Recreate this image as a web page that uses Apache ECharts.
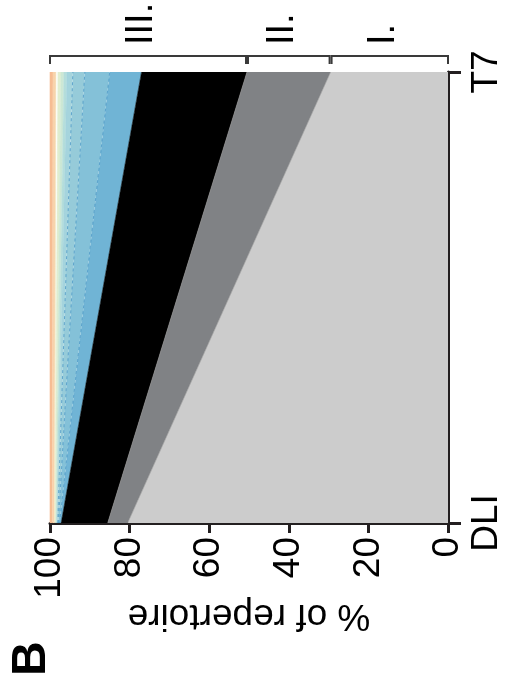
<!DOCTYPE html>
<html lang="en">
<head>
    <meta charset="UTF-8">
    <title>% of repertoire</title>
    <script src="https://cdn.jsdelivr.net/npm/echarts@6/dist/echarts.min.js"></script>
    <style>
        html, body { margin: 0; padding: 0; background: #fff; }
    </style>
</head>
<body>
    <div id="chart" style="width: 505px; height: 679px;"></div>
    <script>
        // timepoints (bottom to top) and clone shares, stacked from 0
        var timepoints = ['DLI', 'T7'];
        var cloneNames = ['c1', 'c2', 'c3', 'c4', 'c5', 'c6', 'c7', 'c8', 'c9', 'c10', 'c11', 'c12', 'c13'];
        var cloneColors = ['#cccccc', '#808285', '#000000', '#70b4d5', '#84c1d8', '#96cbd9', '#a5d4dd',
                           '#b5dedb', '#cde8d5', '#e0eed0', '#f2ebc6', '#f8d3ac', '#f6bd93'];
        var dliShare = [80.5, 5, 11.7, 0.4, 0.3, 0.2, 0.15, 0.15, 0.15, 0.15, 0.2, 0.5, 0.6];
        var t7Share = [29.5, 21, 26.5, 8, 6.25, 3, 1.5, 0.75, 0.75, 0.75, 0.5, 0.75, 0.75];
        var valueTicks = [0, 20, 40, 60, 80, 100];

        // groups marked above the T7 end
        var groupNames = ['I.', 'II.', 'III.'];
        var groupFrom = [0, 29.5, 50.5];
        var groupTo = [29.5, 50.5, 100];

        var font = "'Liberation Sans', Arial, Helvetica, sans-serif";
        var ink = '#231f20';

        var chart = echarts.init(document.getElementById('chart'));

        var series = cloneNames.map(function (name, i) {
            var dashed = (i >= 3 && i <= 5);
            return {
                name: name,
                type: 'line',
                stack: 'total',
                symbol: 'none',
                data: [dliShare[i], t7Share[i]],
                lineStyle: dashed
                    ? { width: 0.8, type: [3, 3], color: '#4a98c6' }
                    : { width: 0.6, color: i < 2 ? '#9a9a9a' : cloneColors[i] },
                areaStyle: { color: cloneColors[i], opacity: 1 },
                itemStyle: { color: cloneColors[i] },
                emphasis: { disabled: true },
                z: 2
            };
        });

        var option = {
            animation: false,
            backgroundColor: '#fff',
            textStyle: { fontFamily: font },
            grid: { left: 50, right: 55, top: 72, bottom: 156, containLabel: false },
            xAxis: {
                type: 'value',
                inverse: true,
                min: 0,
                max: 100,
                interval: 20,
                position: 'bottom',
                name: '% of repertoire',
                nameLocation: 'middle',
                nameRotate: 180,
                nameGap: 74,
                nameMoveOverlap: false,
                nameTextStyle: { fontSize: 37, color: '#000', fontFamily: font },
                axisLine: { show: true, onZero: false, lineStyle: { color: ink, width: 3 } },
                axisTick: { show: true, length: 10, lineStyle: { color: ink, width: 3 } },
                axisLabel: {
                    rotate: 90,
                    margin: 14,
                    fontSize: 37,
                    color: '#000',
                    fontFamily: font,
                    formatter: function (v) { return valueTicks.indexOf(v) >= 0 ? String(v) : ''; }
                },
                splitLine: { show: false }
            },
            yAxis: {
                type: 'category',
                data: timepoints,
                boundaryGap: false,
                position: 'right',
                axisLine: { show: true, onZero: false, lineStyle: { color: ink, width: 3 } },
                axisTick: { show: true, length: 13, lineStyle: { color: ink, width: 3 } },
                axisLabel: {
                    rotate: 90,
                    margin: 20,
                    fontSize: 37,
                    color: '#000',
                    fontFamily: font
                },
                splitLine: { show: false }
            },
            series: series
        };

        chart.setOption(option);

        // brackets above the T7 end, placed through the value axis
        var graphics = [];
        var bracketY = 56, bracketDrop = 8;
        for (var g = 0; g < groupNames.length; g++) {
            var xa = chart.convertToPixel({ xAxisIndex: 0 }, groupFrom[g] + (g > 0 ? 0.25 : 0));
            var xb = chart.convertToPixel({ xAxisIndex: 0 }, groupTo[g] - (g < groupNames.length - 1 ? 0.25 : 0));
            graphics.push({
                type: 'polyline',
                shape: { points: [[xa, bracketY + bracketDrop], [xa, bracketY], [xb, bracketY], [xb, bracketY + bracketDrop]] },
                style: { stroke: '#3a3a3a', lineWidth: 2, fill: null }
            });
            graphics.push({
                type: 'text',
                x: (xa + xb) / 2 - 6,
                y: 45,
                rotation: Math.PI / 2,
                style: {
                    text: groupNames[g],
                    fontSize: 38,
                    fontFamily: font,
                    fill: '#000',
                    align: 'left',
                    verticalAlign: 'middle'
                }
            });
        }
        // panel letter
        graphics.push({
            type: 'text',
            x: 32,
            y: 676,
            rotation: Math.PI / 2,
            style: {
                text: 'B',
                fontSize: 48,
                fontWeight: 'bold',
                fontFamily: font,
                fill: '#000',
                align: 'left',
                verticalAlign: 'middle'
            }
        });

        chart.setOption({ graphic: graphics });
    </script>
</body>
</html>
